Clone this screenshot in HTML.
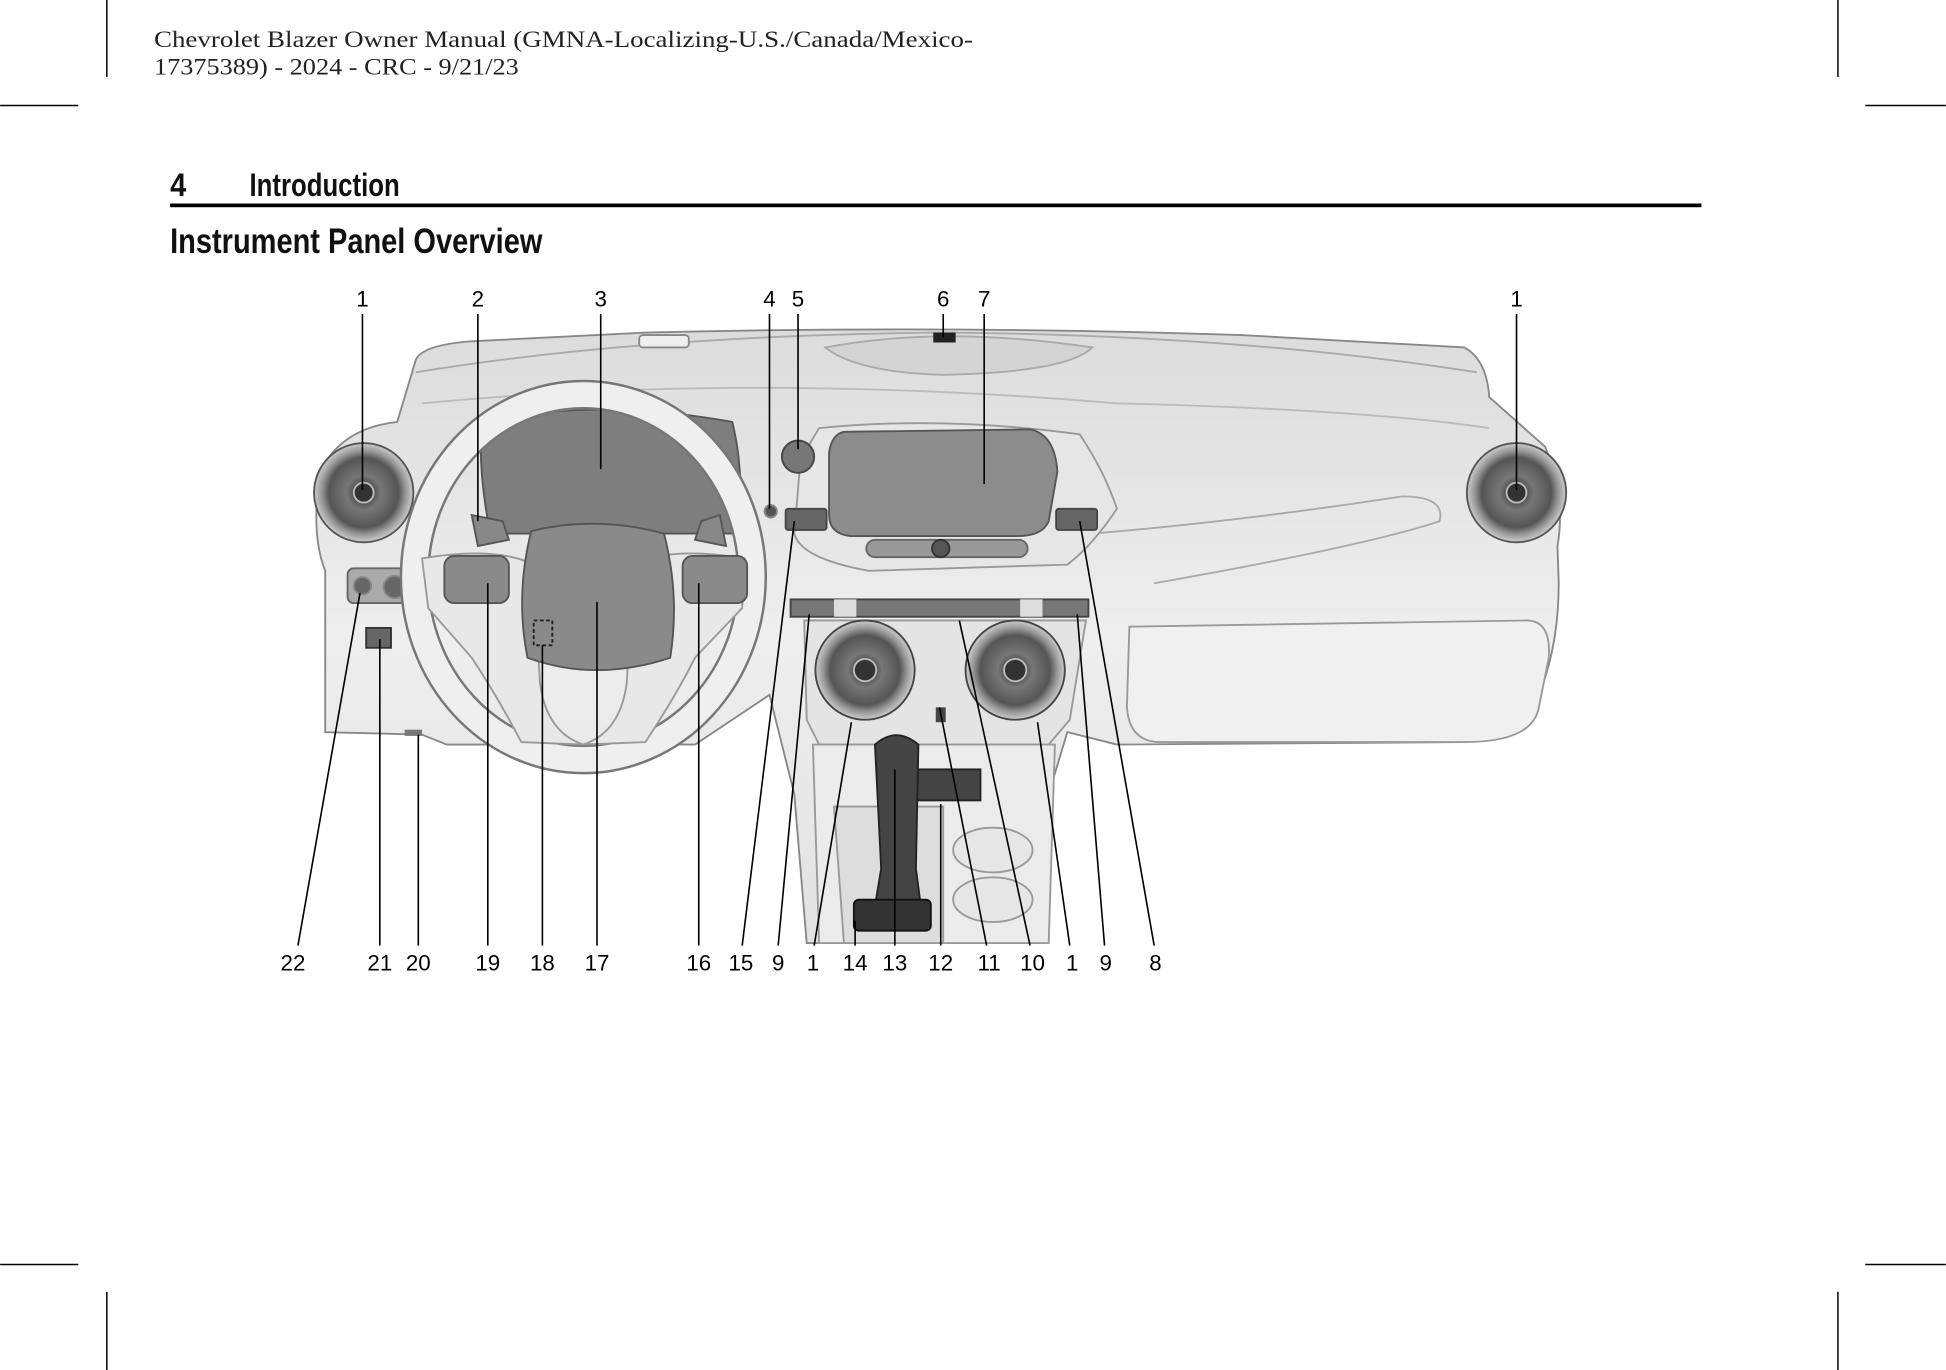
<!DOCTYPE html>
<html><head><meta charset="utf-8"><style>
html,body{margin:0;padding:0;background:#fff;}
svg{display:block}
</style></head><body>
<svg width="1946" height="1370" viewBox="0 0 1568 1104" xmlns="http://www.w3.org/2000/svg">
<defs>
<radialGradient id="vent" cx="50%" cy="50%" r="50%">
<stop offset="0" stop-color="#222"/><stop offset="0.35" stop-color="#777"/><stop offset="0.7" stop-color="#555"/><stop offset="0.85" stop-color="#999"/><stop offset="1" stop-color="#ccc"/>
</radialGradient>
<linearGradient id="dash" x1="0" y1="0" x2="0" y2="1">
<stop offset="0" stop-color="#dcdcdc"/><stop offset="0.5" stop-color="#eeeeee"/><stop offset="1" stop-color="#e2e2e2"/>
</linearGradient>
</defs>
<g stroke="#000" stroke-width="1.2">
<line x1="86" y1="0" x2="86" y2="62"/><line x1="1481" y1="0" x2="1481" y2="62"/>
<line x1="0" y1="85" x2="63" y2="85"/><line x1="1503" y1="85" x2="1568" y2="85"/>
<line x1="0" y1="1019" x2="63" y2="1019"/><line x1="1503" y1="1019" x2="1568" y2="1019"/>
<line x1="86" y1="1041" x2="86" y2="1104"/><line x1="1481" y1="1041" x2="1481" y2="1104"/>
</g>
<g font-family="Liberation Serif, serif" font-size="19" fill="#222">
<text x="124" y="38" textLength="660" lengthAdjust="spacingAndGlyphs">Chevrolet Blazer Owner Manual (GMNA-Localizing-U.S./Canada/Mexico-</text>
<text x="124" y="60" textLength="294" lengthAdjust="spacingAndGlyphs">17375389) - 2024 - CRC - 9/21/23</text>
</g>
<g font-family="Liberation Sans Narrow, Liberation Sans, sans-serif" font-weight="bold" fill="#111">
<text x="137" y="158" font-size="26" textLength="13" lengthAdjust="spacingAndGlyphs">4</text>
<text x="201" y="158" font-size="26" textLength="121" lengthAdjust="spacingAndGlyphs">Introduction</text>
<text x="137" y="204" font-size="28" textLength="300" lengthAdjust="spacingAndGlyphs">Instrument Panel Overview</text>
</g>
<rect x="137" y="164" width="1234" height="3" fill="#000"/>

<g stroke="#888" stroke-width="1.5">
<path d="M335 290 Q340 278 380 275 L520 268 Q760 262 1000 270 L1180 280 Q1198 290 1200 320 L1245 360 Q1262 400 1255 440 L1256 470 Q1256 520 1240 560 L1180 598 L900 600 L860 590 L845 640 L830 760 L650 760 L640 640 L620 560 L560 600 L360 600 L340 592 L262 590 L262 460 Q250 430 258 380 Q275 345 320 340 Z" fill="url(#dash)"/>
<path d="M335 300 Q520 270 760 268 Q1000 270 1190 300" fill="none" stroke="#aaa"/>
<path d="M340 325 Q600 300 900 325 Q1100 330 1200 345" fill="none" stroke="#bbb"/>
<path d="M665 280 Q760 262 880 280 Q860 300 760 302 Q690 300 665 280Z" fill="#d4d4d4" stroke="#aaa"/>
<rect x="515" y="270" width="40" height="10" rx="3" fill="#eee"/>
<rect x="752" y="268" width="18" height="8" fill="#222" stroke="none"/>
<path d="M910 505 L1230 500 Q1250 500 1248 530 L1240 570 Q1235 598 1180 598 L935 598 Q910 598 908 570 Z" fill="#f0f0f0" stroke="#999"/>
<path d="M880 430 Q1000 420 1130 400 Q1165 400 1160 420 Q1100 440 930 470" fill="none" stroke="#aaa"/>
<path d="M660 345 Q760 335 870 350 Q890 380 900 410 Q880 440 860 455 L700 460 Q645 450 640 430 L645 370 Z" fill="#e6e6e6" stroke="#999"/>
<path d="M680 348 L830 346 Q850 350 852 380 L845 420 Q840 432 820 432 L685 432 Q668 430 668 415 L668 365 Q670 350 680 348Z" fill="#8c8c8c" stroke="#555"/>
<rect x="698" y="435" width="130" height="14" rx="7" fill="#999" stroke="#666"/>
<circle cx="758" cy="442" r="7" fill="#555" stroke="#333"/>
<circle cx="643" cy="368" r="13" fill="#777" stroke="#444"/>
<rect x="633" y="410" width="33" height="17" rx="2" fill="#666" stroke="#444"/>
<rect x="851" y="410" width="33" height="17" rx="2" fill="#666" stroke="#444"/>
<rect x="637" y="483" width="240" height="14" fill="#777" stroke="#444"/>
<rect x="672" y="483" width="18" height="14" fill="#ddd" stroke="none"/>
<rect x="822" y="483" width="18" height="14" fill="#ddd" stroke="none"/>
<path d="M745 500 L775 500 L765 522 L755 522 Z" fill="#888" stroke="#555"/>
<path d="M648 500 L875 500 L862 580 L845 600 L660 600 L650 580Z" fill="#e4e4e4" stroke="#999"/>
<circle cx="697" cy="540" r="40" fill="url(#vent)" stroke="#444"/>
<circle cx="818" cy="540" r="40" fill="url(#vent)" stroke="#444"/>
<circle cx="697" cy="540" r="9" fill="#333" stroke="#bbb"/>
<circle cx="818" cy="540" r="9" fill="#333" stroke="#bbb"/>
<rect x="754" y="570" width="8" height="12" fill="#444" stroke="none"/>
<path d="M655 600 L850 600 L845 760 L660 760 Z" fill="#ebebeb" stroke="#999"/>
<path d="M672 650 L760 650 L760 760 L680 760 Z" fill="#ddd" stroke="#999"/>
<rect x="735" y="620" width="55" height="25" fill="#444" stroke="#222"/>
<path d="M705 600 Q722 585 740 600 L738 700 L742 730 L705 730 L710 700 Z" fill="#444" stroke="#222"/>
<rect x="688" y="725" width="62" height="25" rx="4" fill="#333" stroke="#111"/>
<ellipse cx="800" cy="685" rx="32" ry="18" fill="#e6e6e6" stroke="#999"/>
<ellipse cx="800" cy="725" rx="32" ry="18" fill="#e6e6e6" stroke="#999"/>
<circle cx="293" cy="397" r="40" fill="url(#vent)" stroke="#555"/>
<circle cx="1222" cy="397" r="40" fill="url(#vent)" stroke="#555"/>
<circle cx="293" cy="397" r="8" fill="#333" stroke="#bbb"/>
<circle cx="1222" cy="397" r="8" fill="#333" stroke="#bbb"/>
<rect x="280" y="458" width="52" height="28" rx="5" fill="#aaa" stroke="#666"/>
<circle cx="292" cy="472" r="7" fill="#666"/><circle cx="318" cy="473" r="9" fill="#666"/>
<rect x="295" y="506" width="20" height="16" fill="#666" stroke="#333"/>
<rect x="326" y="588" width="14" height="5" fill="#777" stroke="none"/>
<path d="M388 340 Q480 320 590 340 Q600 380 595 430 L395 430 Q385 380 388 340Z" fill="#7e7e7e" stroke="#555"/>
<ellipse cx="470" cy="465" rx="136" ry="147" fill="none" stroke="#777" stroke-width="24"/>
<ellipse cx="470" cy="465" rx="136" ry="147" fill="none" stroke="#efefef" stroke-width="20"/>
<path d="M340 450 Q400 440 430 455 L435 550 Q440 590 470 600 L420 598 Q400 560 380 530 L345 490Z" fill="#e8e8e8" stroke="#999"/>
<path d="M600 450 Q540 440 510 455 L505 550 Q500 590 470 600 L520 598 Q545 560 560 530 L598 490Z" fill="#e8e8e8" stroke="#999"/>
<rect x="358" y="448" width="52" height="38" rx="8" fill="#8a8a8a" stroke="#555"/>
<rect x="550" y="448" width="52" height="38" rx="8" fill="#8a8a8a" stroke="#555"/>
<path d="M428 428 Q480 415 535 430 Q548 480 540 530 Q480 550 425 530 Q415 480 428 428Z" fill="#8a8a8a" stroke="#555"/>
<path d="M380 415 L405 420 L410 435 L385 440Z" fill="#888" stroke="#555"/>
<path d="M580 415 L565 420 L560 435 L585 440Z" fill="#888" stroke="#555"/>
<circle cx="621" cy="412" r="5" fill="#555"/>
<rect x="430" y="500" width="15" height="20" fill="none" stroke="#222" stroke-dasharray="3,2"/>
</g>

<g stroke="#000" stroke-width="1.3" fill="none">
<line x1="292" y1="253" x2="292" y2="395"/><line x1="385" y1="253" x2="385" y2="420"/>
<line x1="484" y1="253" x2="484" y2="378"/><line x1="620" y1="253" x2="620" y2="410"/>
<line x1="643" y1="253" x2="643" y2="362"/><line x1="760" y1="253" x2="760" y2="272"/>
<line x1="793" y1="253" x2="793" y2="390"/><line x1="1222" y1="253" x2="1222" y2="395"/>
<line x1="240" y1="762" x2="290" y2="478"/><line x1="306" y1="762" x2="306" y2="515"/>
<line x1="337" y1="762" x2="337" y2="592"/><line x1="393" y1="762" x2="393" y2="470"/>
<line x1="437" y1="762" x2="437" y2="520"/><line x1="481" y1="762" x2="481" y2="485"/>
<line x1="563" y1="762" x2="563" y2="470"/><line x1="598" y1="762" x2="640" y2="420"/>
<line x1="627" y1="762" x2="652" y2="495"/><line x1="656" y1="762" x2="686" y2="582"/>
<line x1="689" y1="762" x2="689" y2="742"/><line x1="721" y1="762" x2="721" y2="620"/>
<line x1="758" y1="762" x2="758" y2="648"/><line x1="795" y1="762" x2="757" y2="570"/>
<line x1="830" y1="762" x2="773" y2="500"/><line x1="862" y1="762" x2="836" y2="582"/>
<line x1="890" y1="762" x2="868" y2="495"/><line x1="930" y1="762" x2="870" y2="420"/>
</g>
<g font-family="Liberation Sans, Arial, sans-serif" font-size="18" fill="#000" text-anchor="middle">
<text x="292" y="247">1</text><text x="385" y="247">2</text><text x="484" y="247">3</text>
<text x="620" y="247">4</text><text x="643" y="247">5</text><text x="760" y="247">6</text>
<text x="793" y="247">7</text><text x="1222" y="247">1</text>
<text x="236" y="782">22</text><text x="306" y="782">21</text><text x="337" y="782">20</text>
<text x="393" y="782">19</text><text x="437" y="782">18</text><text x="481" y="782">17</text>
<text x="563" y="782">16</text><text x="597" y="782">15</text><text x="627" y="782">9</text>
<text x="655" y="782">1</text><text x="689" y="782">14</text><text x="721" y="782">13</text>
<text x="758" y="782">12</text><text x="797" y="782">11</text><text x="832" y="782">10</text>
<text x="864" y="782">1</text><text x="891" y="782">9</text><text x="931" y="782">8</text>
</g>
</svg>
</body></html>
